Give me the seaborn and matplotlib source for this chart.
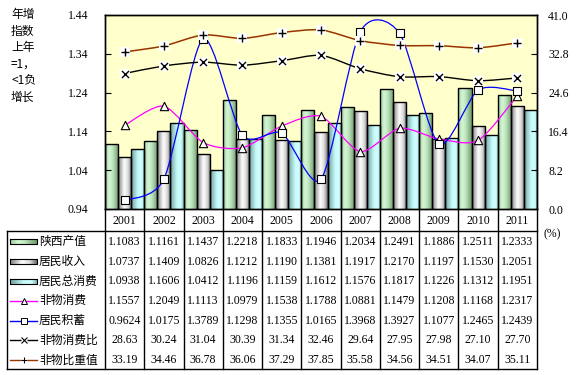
import numpy as np
import pandas as pd
import matplotlib as mpl
mpl.use('Agg')
import matplotlib.pyplot as plt
import seaborn as sns
from matplotlib.path import Path
from matplotlib.patches import PathPatch
from matplotlib.colors import LinearSegmentedColormap

years = ['2001', '2002', '2003', '2004', '2005', '2006', '2007', '2008', '2009', '2010', '2011']
shaanxi_output = [1.1083, 1.1161, 1.1437, 1.2218, 1.1833, 1.1946, 1.2034, 1.2491, 1.1886, 1.2511, 1.2333]
resident_income = [1.0737, 1.1409, 1.0826, 1.1212, 1.1190, 1.1381, 1.1917, 1.2170, 1.1197, 1.1530, 1.2051]
resident_consumption = [1.0938, 1.1606, 1.0412, 1.1196, 1.1159, 1.1612, 1.1576, 1.1817, 1.1226, 1.1312, 1.1951]
nonmat_consumption = [1.1557, 1.2049, 1.1113, 1.0979, 1.1538, 1.1788, 1.0881, 1.1479, 1.1208, 1.1168, 1.2317]
resident_savings = [0.9624, 1.0175, 1.3789, 1.1298, 1.1355, 1.0165, 1.3968, 1.3927, 1.1077, 1.2465, 1.2439]
nonmat_ratio = [28.63, 30.24, 31.04, 30.39, 31.34, 32.46, 29.64, 27.95, 27.98, 27.10, 27.70]
nonmat_share = [33.19, 34.46, 36.78, 36.06, 37.29, 37.85, 35.58, 34.56, 34.51, 34.07, 35.11]

bar_names = ['陕西产值', '居民收入', '居民总消费']
line_names = ['非物消费', '居民积蓄', '非物消费比', '非物比重值']

serif = 'Liberation Serif'
cjk = ['Noto Sans CJK SC', 'DejaVu Sans']
fs = 8.5

W, H = 577, 375
fig = plt.figure(figsize=(W / 100, H / 100), dpi=100)
fig.patch.set_facecolor('white')

# plot area in pixels
L, R, T, B = 105, 537, 15, 209
ax = fig.add_axes([L / W, 1 - B / H, (R - L) / W, (B - T) / H])
ax.set_facecolor('#FFFFCC')

bars = pd.DataFrame({
    'year': years * 3,
    'value': shaanxi_output + resident_income + resident_consumption,
    'series': [n for n in bar_names for _ in years],
})
sns.barplot(data=bars, x='year', y='value', hue='series', hue_order=bar_names,
            palette=['#b0dcb0', '#d0d0d0', '#b0e8e8'], width=1.0, dodge=True,
            edgecolor='black', linewidth=1.0, legend=False, ax=ax)

grads = [
    LinearSegmentedColormap.from_list('g', [(0, '#9cc89c'), (0.3, '#d4f8d4'), (0.55, '#bfe6bf'), (1, '#6e986e')]),
    LinearSegmentedColormap.from_list('s', [(0, '#7c7c7c'), (0.45, '#ffffff'), (0.75, '#d8d8d8'), (1, '#6a6a6a')]),
    LinearSegmentedColormap.from_list('c', [(0, '#6e9e9e'), (0.5, '#c8fafa'), (0.8, '#d0ffff'), (1, '#84b4b4')]),
]
ramp = np.linspace(0, 1, 64).reshape(1, -1)
ymin, ymax = 0.94, 1.44
for cont, cm_ in zip(ax.containers, grads):
    for p in cont:
        x0, w, h = p.get_x(), p.get_width(), p.get_height()
        im = ax.imshow(ramp, cmap=cm_, aspect='auto', extent=[x0, x0 + w, ymin, h],
                       zorder=1.5, interpolation='bicubic')
        im.set_clip_path(p)
        p.set_facecolor('none')
        p.set_zorder(2)

ax.set_xlim(-0.5, 10.5)
ax.set_ylim(ymin, ymax)
ax.set_yticks(np.arange(0.94, 1.441, 0.1))
ax.set_yticklabels([f'{v:.2f}' for v in np.arange(0.94, 1.441, 0.1)], fontfamily=serif, fontsize=fs)
ax.set_xticks(range(len(years)))
ax.set_xticklabels(years, fontfamily=serif, fontsize=fs)
ax.tick_params(axis='x', length=0, pad=4)
ax.tick_params(axis='y', direction='in', length=4, pad=12)
ax.set_xlabel('')
ax.set_ylabel('')
for s in ax.spines.values():
    s.set_color('black')
    s.set_linewidth(1)


def smooth_path(xs, ys, k=0.13):
    xs = np.asarray(xs, float)
    ys = np.asarray(ys, float)
    px = np.concatenate([[xs[0]], xs, [xs[-1]]])
    py = np.concatenate([[ys[0]], ys, [ys[-1]]])
    verts = [(xs[0], ys[0])]
    codes = [Path.MOVETO]
    for i in range(1, len(px) - 2):
        c1 = (px[i] + k * (px[i + 1] - px[i - 1]), py[i] + k * (py[i + 1] - py[i - 1]))
        c2 = (px[i + 1] - k * (px[i + 2] - px[i]), py[i + 1] - k * (py[i + 2] - py[i]))
        verts += [c1, c2, (px[i + 1], py[i + 1])]
        codes += [Path.CURVE4] * 3
    return Path(verts, codes)


xpos = np.arange(len(years))

ax.add_patch(PathPatch(smooth_path(xpos, nonmat_consumption), fc='none', ec='#FF00FF', lw=0.9, zorder=4))
ax.add_patch(PathPatch(smooth_path(xpos, resident_savings), fc='none', ec='#0000FF', lw=0.9, zorder=4))
sns.scatterplot(x=xpos, y=nonmat_consumption, marker='^', s=36, color='white', edgecolor='black',
                linewidth=0.8, zorder=5, ax=ax)
sns.scatterplot(x=xpos, y=resident_savings, marker='s', s=30, color='white', edgecolor='black',
                linewidth=0.8, zorder=5, ax=ax)

ax2 = ax.twinx()
ax2.set_ylim(0, 41)
ax2.set_yticks(np.arange(0, 41.01, 8.2))
ax2.set_yticklabels([f'{v:.1f}' for v in np.arange(0, 41.01, 8.2)], fontfamily=serif, fontsize=fs)
ax2.tick_params(axis='y', direction='in', length=4, pad=8)
for s in ax2.spines.values():
    s.set_color('black')
    s.set_linewidth(1)
ax2.add_patch(PathPatch(smooth_path(xpos, nonmat_ratio), fc='none', ec='black', lw=1.0, zorder=3))
ax2.add_patch(PathPatch(smooth_path(xpos, nonmat_share), fc='none', ec='#993300', lw=1.1, zorder=3))
for vals, mk in [(nonmat_ratio, 'x'), (nonmat_share, '+')]:
    sns.scatterplot(x=xpos, y=vals, marker='s', s=48, color='white', linewidth=0, zorder=4, ax=ax2)
    sns.scatterplot(x=xpos, y=vals, marker=mk, s=26, color='black', linewidth=1.0, zorder=5, ax=ax2)
ax2.set_ylabel('')

# left axis caption
fig.text(11 / W, 1 - 8 / H, '年增\n指数\n上年\n=1，\n<1负\n增长', family=cjk, fontsize=fs,
         va='top', ha='left', linespacing=1.35)

# data table
tb = fig.add_axes([0, 0, 1, 1], zorder=-1)
tb.set_xlim(0, W)
tb.set_ylim(H, 0)
tb.axis('off')
cw = (R - L) / len(years)
top, rh = 231, 19.7
bottom = top + rh * 7
tb.plot([7, R], [top, top], color='black', lw=1)
tb.plot([7, R], [bottom, bottom], color='black', lw=1)
tb.plot([7, 7], [top, bottom], color='black', lw=1)
for i in range(len(years) + 1):
    tb.plot([L + i * cw] * 2, [B, bottom], color='black', lw=1)

rows = [shaanxi_output, resident_income, resident_consumption, nonmat_consumption,
        resident_savings, nonmat_ratio, nonmat_share]
names = bar_names + line_names
for r, (vals, name) in enumerate(zip(rows, names)):
    yc = top + rh * (r + 0.55)
    fmt = '{:.4f}' if r < 5 else '{:.2f}'
    for c, v in enumerate(vals):
        tb.text(L + cw * (c + 0.5), yc, fmt.format(v), ha='center', va='center',
                fontfamily=serif, fontsize=fs)
    tb.text(39, yc, name, ha='left', va='center', family=cjk, fontsize=fs)
    if r < 3:
        tb.imshow(ramp, cmap=grads[r], aspect='auto', extent=[10, 37, yc + 2.5, yc - 2.5],
                  interpolation='bicubic', zorder=2)
        tb.plot([10, 37, 37, 10, 10], [yc - 2.5, yc - 2.5, yc + 2.5, yc + 2.5, yc - 2.5],
                color='black', lw=0.8, zorder=3)
    else:
        lc = ['#FF00FF', '#0000FF', 'black', '#993300'][r - 3]
        mk = ['^', 's', 'x', '+'][r - 3]
        tb.plot([10, 37], [yc, yc], color=lc, lw=1, zorder=2)
        if mk in ('^', 's'):
            tb.plot([23.5], [yc], marker=mk, ms=4.5, mfc='white', mec='black', mew=0.7, zorder=3)
        else:
            tb.plot([23.5], [yc], marker='s', ms=5, mfc='white', mec='none', zorder=3)
            tb.plot([23.5], [yc], marker=mk, ms=4, color='black', mew=0.8, zorder=4)
tb.set_xlim(0, W)
tb.set_ylim(H, 0)
tb.text(552, 234, '(%)', ha='center', va='center', fontfamily=serif, fontsize=fs)

fig.savefig('out.png', dpi=100, facecolor='white')
